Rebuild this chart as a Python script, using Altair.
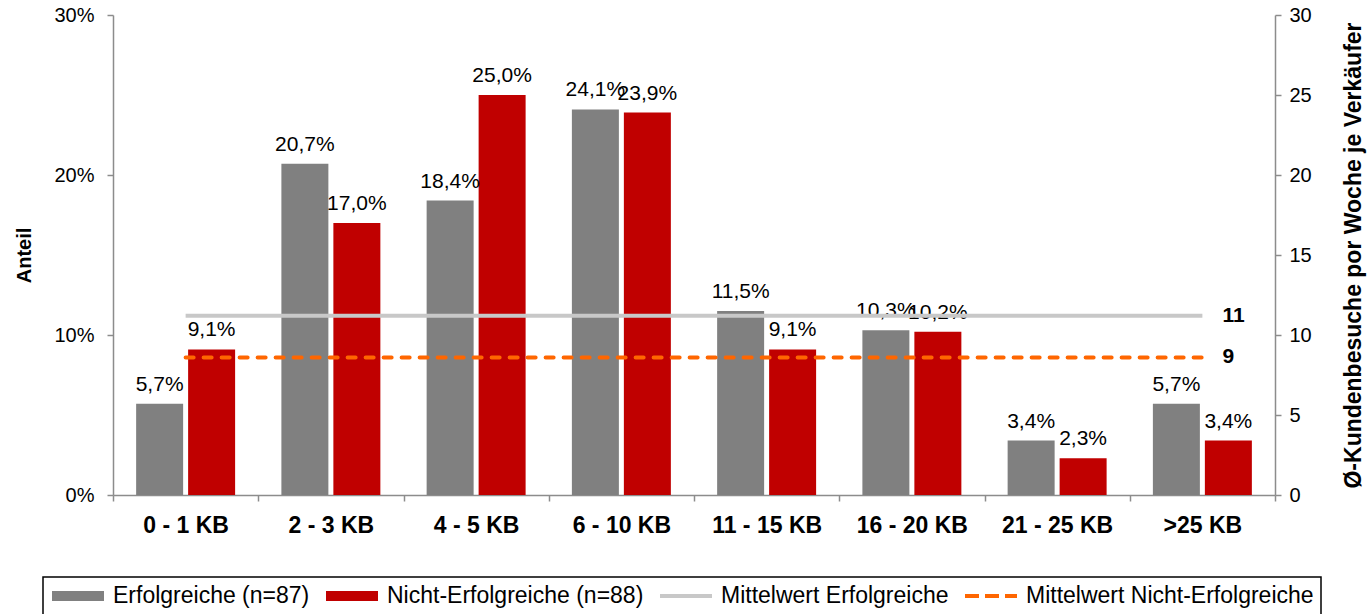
import altair as alt
import pandas as pd

FONT = "Liberation Sans"

categories = ["0 - 1 KB", "2 - 3 KB", "4 - 5 KB", "6 - 10 KB",
              "11 - 15 KB", "16 - 20 KB", "21 - 25 KB", ">25 KB"]
share_erfolgreiche = [5.7, 20.7, 18.4, 24.1, 11.5, 10.3, 3.4, 5.7]
share_nicht_erfolgreiche = [9.1, 17.0, 25.0, 23.9, 9.1, 10.2, 2.3, 3.4]
mean_erfolgreiche = 11.2
mean_nicht_erfolgreiche = 8.6

bar_series = ["Erfolgreiche (n=87)", "Nicht-Erfolgreiche (n=88)"]
line_series = ["Mittelwert Erfolgreiche", "Mittelwert Nicht-Erfolgreiche"]
all_series = bar_series + line_series
series_colors = ["#808080", "#C00000", "#C8C8C8", "#FF6600"]

left_ticks = [0, 10, 20, 30]
right_ticks = [0, 5, 10, 15, 20, 25, 30]

# legend symbol shapes (bar swatch = stacked strokes, line = single stroke)
BAR_PATH = "M-1,-0.3H4.2M-1,-0.1H4.2M-1,0.1H4.2M-1,0.3H4.2"
LINE_PATH = "M-1,0H4.2"
legend_shapes = [BAR_PATH, BAR_PATH, LINE_PATH, LINE_PATH]
legend_dashes = [[1, 0], [1, 0], [1, 0], [14, 6]]


def fmt_pct(v):
    return f"{v:.1f}".replace(".", ",") + "%"


rows = []
for s, vals in zip(bar_series, [share_erfolgreiche, share_nicht_erfolgreiche]):
    for c, v in zip(categories, vals):
        rows.append({"cat": c, "series": s, "value": v, "label": fmt_pct(v)})
bars_df = pd.DataFrame(rows)

mrows = []
for s, m in zip(line_series, [mean_erfolgreiche, mean_nicht_erfolgreiche]):
    for c in categories:
        mrows.append({"cat": c, "series": s, "value": m, "label": str(round(m))})
mean_df = pd.DataFrame(mrows)
end_df = mean_df[mean_df["cat"] == categories[-1]]

GRAY_AX = "#8C8C8C"

x_axis = alt.Axis(title=None, labelFont=FONT, labelFontSize=23, labelFontWeight="bold",
                  labelColor="black", labelAngle=0, tickBand="extent", tickSize=6,
                  labelPadding=13, domainColor=GRAY_AX, tickColor=GRAY_AX, grid=False,
                  domainWidth=1.5, tickWidth=1.5)
x_scale = alt.Scale(paddingInner=0, paddingOuter=0)


def X():
    return alt.X("cat:N", sort=categories, scale=x_scale, axis=x_axis)


left_axis = alt.Axis(orient="left", values=left_ticks, labelExpr="datum.value + '%'",
                     title="Anteil", titleFont=FONT, titleFontSize=20, titleFontWeight="bold",
                     titleColor="black", titlePadding=19, labelFont=FONT, labelFontSize=20,
                     labelColor="black", tickSize=6, labelPadding=13, domainColor=GRAY_AX,
                     tickColor=GRAY_AX, grid=False, domainWidth=1.5, tickWidth=1.5)
right_axis = alt.Axis(orient="right", values=right_ticks,
                      title="Ø-Kundenbesuche por Woche je Verkäufer", titleFont=FONT,
                      titleFontSize=23, titleFontWeight="bold", titleColor="black",
                      titleAngle=270, titleBaseline="top", titlePadding=31,
                      labelFont=FONT, labelFontSize=20, labelColor="black", tickSize=6,
                      labelPadding=8, domainColor=GRAY_AX, tickColor=GRAY_AX, grid=False,
                      domainWidth=1.5, tickWidth=1.5)
y_left_scale = alt.Scale(domain=[0, 30], nice=False)
y_right_scale = alt.Scale(domain=[0, 30], nice=False)

x_off = alt.XOffset("series:N", sort=bar_series,
                    scale=alt.Scale(domain=bar_series, paddingInner=0.096, paddingOuter=0.445))

bars = alt.Chart(bars_df).mark_bar().encode(
    x=X(),
    xOffset=x_off,
    y=alt.Y("value:Q", scale=y_left_scale, axis=left_axis),
    fill=alt.Fill("series:N", scale=alt.Scale(domain=bar_series, range=series_colors[:2]),
                  legend=None),
)
bar_labels = alt.Chart(bars_df).mark_text(
    dy=-13, baseline="alphabetic", align="center", font=FONT, fontSize=21, color="black"
).encode(
    x=X(),
    xOffset=x_off,
    y=alt.Y("value:Q", scale=y_left_scale, axis=left_axis),
    text="label:N",
)
left = alt.layer(bars, bar_labels)

gray_line = alt.Chart(mean_df).transform_filter(
    alt.datum.series == line_series[0]
).mark_line(color=series_colors[2], strokeWidth=4).encode(
    x=X(),
    y=alt.Y("value:Q", scale=y_right_scale, axis=right_axis),
)
orange_line = alt.Chart(mean_df).transform_filter(
    alt.datum.series == line_series[1]
).mark_line(color=series_colors[3], strokeWidth=4, strokeDash=[8, 10], strokeCap="round").encode(
    x=X(),
    y=alt.Y("value:Q", scale=y_right_scale, axis=right_axis),
)
end_labels = alt.Chart(end_df).mark_text(
    align="left", baseline="middle", dx=20, font=FONT, fontSize=21, fontWeight="bold",
    color="black"
).encode(
    x=X(),
    y=alt.Y("value:Q", scale=y_right_scale, axis=right_axis),
    text="label:N",
)

legend = alt.Legend(title=None, orient="none", legendX=-70, legendY=562,
                    direction="horizontal", labelFont=FONT, labelFontSize=23,
                    labelColor="black", labelLimit=500, symbolSize=400,
                    symbolStrokeWidth=4, symbolOpacity=1, labelOffset=39,
                    columnPadding=8, padding=7, strokeColor="black",
                    fillColor="white")
helper = alt.Chart(mean_df).mark_point(opacity=0, strokeWidth=4, filled=False).encode(
    x=X(),
    y=alt.Y("value:Q", scale=y_right_scale, axis=right_axis),
    color=alt.Color("series:N", sort=all_series,
                    scale=alt.Scale(domain=all_series, range=series_colors), legend=legend),
    shape=alt.Shape("series:N", sort=all_series,
                    scale=alt.Scale(domain=all_series, range=legend_shapes), legend=legend),
    strokeDash=alt.StrokeDash("series:N", sort=all_series,
                              scale=alt.Scale(domain=all_series, range=legend_dashes),
                              legend=legend),
)
right = alt.layer(gray_line, orange_line, end_labels, helper)

chart = alt.layer(left, right).resolve_scale(y="independent").properties(
    width=1162, height=480,
    padding={"left": 113, "top": 15, "right": 94, "bottom": 119},
    autosize=alt.AutoSizeParams(type="none"),
    background="white",
).configure_view(stroke=None).configure_legend(strokeWidth=1.5)

chart.save("out.html", embed_options={"renderer": "svg", "actions": False})
